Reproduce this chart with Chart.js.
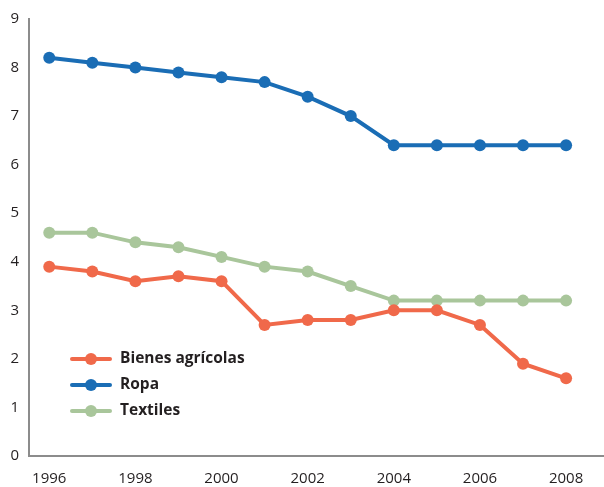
<!DOCTYPE html>
<html>
<head>
<meta charset="utf-8">
<script src="https://cdn.jsdelivr.net/npm/chart.js@4"></script>
<style>
  html, body { margin: 0; padding: 0; background: #fff; }
  #wrap { width: 604px; height: 487px; }
</style>
</head>
<body>
<div id="wrap"><canvas id="chart" width="604" height="487"></canvas></div>
<script>
const years = [1996, 1997, 1998, 1999, 2000, 2001, 2002, 2003, 2004, 2005, 2006, 2007, 2008];
const bienes = [3.9, 3.8, 3.6, 3.7, 3.6, 2.7, 2.8, 2.8, 3.0, 3.0, 2.7, 1.9, 1.6];
const ropa = [8.2, 8.1, 8.0, 7.9, 7.8, 7.7, 7.4, 7.0, 6.4, 6.4, 6.4, 6.4, 6.4];
const textiles = [4.6, 4.6, 4.4, 4.3, 4.1, 3.9, 3.8, 3.5, 3.2, 3.2, 3.2, 3.2, 3.2];
const seriesNames = ["Bienes agrícolas", "Ropa", "Textiles"];
const seriesColors = ["#f0694a", "#1a6db5", "#a9c69b"];

const chartDiv = document.getElementById("chart");
const fontFamily = "'Open Sans', 'Noto Sans', sans-serif";

const toPoints = (vals) => vals.map((v, i) => ({ x: years[i], y: v }));

const makeSet = (name, vals, color) => ({
  label: name,
  data: toPoints(vals),
  borderColor: color,
  backgroundColor: color,
  borderWidth: 4,
  pointRadius: 6,
  pointHoverRadius: 6,
  pointBorderWidth: 0,
  tension: 0,
});

// legend drawn inside the plot: short line with a dot, bold label
const insideLegend = {
  id: "insideLegend",
  afterDraw(chart) {
    const ctx = chart.ctx;
    const x0 = 72, x1 = 110, y0 = 359, gap = 26;
    ctx.save();
    ctx.font = "bold 15.5px " + fontFamily;
    ctx.textBaseline = "middle";
    seriesNames.forEach((name, i) => {
      const y = y0 + i * gap;
      ctx.strokeStyle = seriesColors[i];
      ctx.fillStyle = seriesColors[i];
      ctx.lineWidth = 4;
      ctx.lineCap = "round";
      ctx.beginPath();
      ctx.moveTo(x0, y);
      ctx.lineTo(x1, y);
      ctx.stroke();
      ctx.beginPath();
      ctx.arc((x0 + x1) / 2, y, 6, 0, Math.PI * 2);
      ctx.fill();
      ctx.fillStyle = "#231f20";
      ctx.fillText(name, 120, y);
    });
    ctx.restore();
  },
};

new Chart(chartDiv, {
  type: "line",
  data: {
    datasets: [
      makeSet(seriesNames[0], bienes, seriesColors[0]),
      makeSet(seriesNames[1], ropa, seriesColors[1]),
      makeSet(seriesNames[2], textiles, seriesColors[2]),
    ],
  },
  options: {
    responsive: false,
    animation: false,
    layout: { autoPadding: false, padding: { top: 17, right: 0, left: 0, bottom: 0 } },
    scales: {
      x: {
        type: "linear",
        min: 1995.53,
        max: 2008.88,
        afterBuildTicks: (scale) => {
          scale.ticks = years.filter((y) => y % 2 === 0).map((v) => ({ value: v }));
        },
        afterFit: (scale) => {
          scale.height = 31;
        },
        grid: { display: false, drawTicks: false },
        border: { display: true, color: "#8c8c8c", width: 2 },
        ticks: {
          padding: 14,
          color: "#231f20",
          font: { family: fontFamily, size: 15 },
          callback: (v) => String(v),
          maxRotation: 0,
        },
      },
      y: {
        min: 0,
        max: 9,
        afterFit: (scale) => {
          scale.width = 29;
        },
        grid: { display: false, drawTicks: false },
        border: { display: true, color: "#8c8c8c", width: 2 },
        ticks: {
          stepSize: 1,
          padding: 10,
          color: "#231f20",
          font: { family: fontFamily, size: 15 },
        },
      },
    },
    plugins: {
      legend: { display: false },
      title: { display: false },
      tooltip: { enabled: false },
    },
  },
  plugins: [insideLegend],
});
</script>
</body>
</html>
